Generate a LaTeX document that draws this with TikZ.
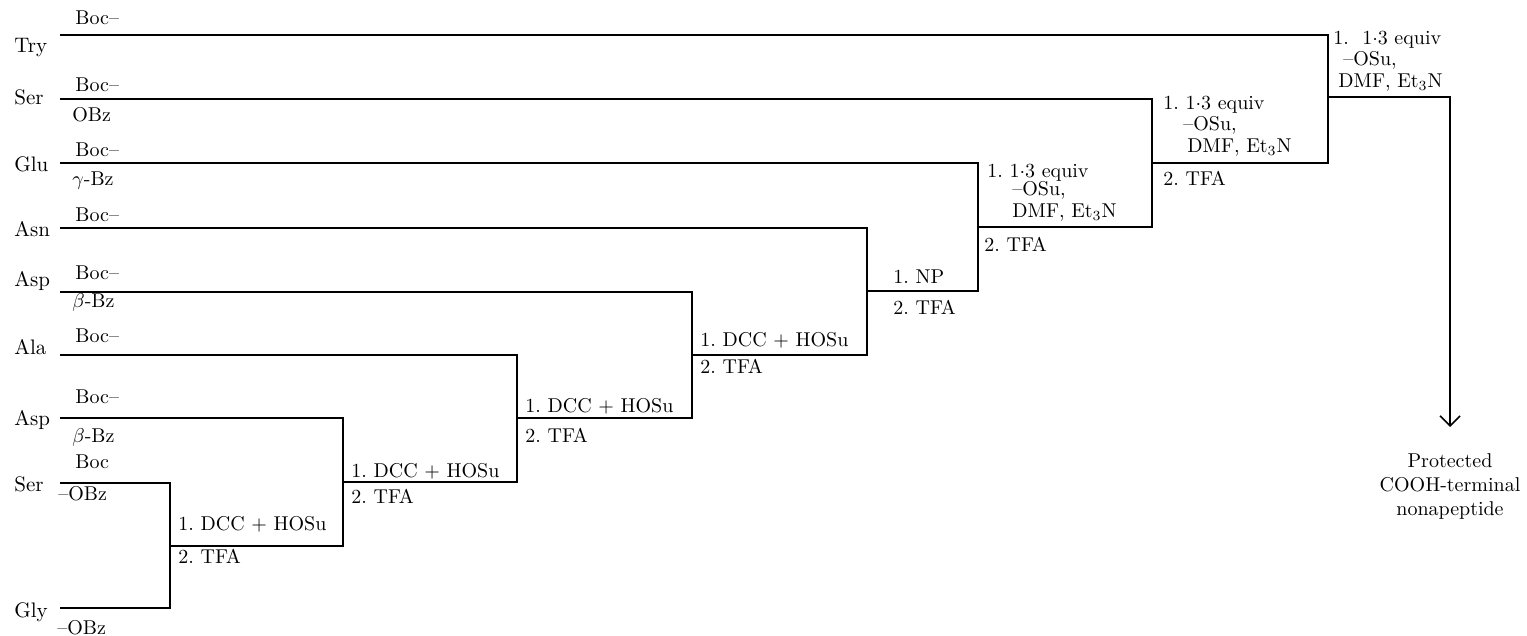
\documentclass[tikz,border=0pt]{standalone}
\usepackage{amsmath}
\usepackage{tikz}
\usetikzlibrary{positioning,arrows.meta}
\tikzset{
    res/.style={
        anchor=base west,
        inner sep=0pt,
        font=\fontsize{10.5}{12}\selectfont
    },
    grp/.style={
        anchor=base west,
        inner sep=0pt,
        font=\fontsize{10}{12}\selectfont
    },
    cond/.style={
        anchor=base west,
        inner sep=0pt,
        font=\fontsize{10}{12}\selectfont
    },
    bond/.style={line width=0.8pt},
    arr/.style={line width=0.8pt,-{Straight Barb[length=5pt,width=10pt]}}
}

\begin{document}
\begin{tikzpicture}[x=0.5pt,y=-0.5pt]
\useasboundingbox (0,0) rectangle (1527,636);

% Residues
\node[res] (nTry)  at (14,53)  {Try};
\node[res] (nSer)  at (14,105) {Ser};
\node[res] (nGlu)  at (14,172) {Glu};
\node[res] (nAsn)  at (14,237) {Asn};
\node[res] (nAsp)  at (14,287) {Asp};
\node[res] (nAla)  at (14,355) {Ala};
\node[res] (nAspb) at (14,425) {Asp};
\node[res] (nSerb) at (14,491) {Ser};
\node[res] (nGly)  at (14,617) {Gly};

\coordinate (rTry)  at (60,35);
\coordinate (rSer)  at (60,99);
\coordinate (rGlu)  at (60,163);
\coordinate (rAsn)  at (60,228);
\coordinate (rAsp)  at (60,292);
\coordinate (rAla)  at (60,355);
\coordinate (rAspb) at (60,418);
\coordinate (rSerb) at (60,483);
\coordinate (rGly)  at (60,608);

% Protecting groups
\node[grp] (gTry)  at (75,25)  {Boc--};
\node[grp] (gSer)  at (75,92)  {Boc--};
\node[grp] (oSer)  at (72,122) {OBz};
\node[grp] (gGlu)  at (75,157) {Boc--};
\node[grp] (oGlu)  at (72,186) {$\gamma$-Bz};
\node[grp] (gAsn)  at (75,222) {Boc--};
\node[grp] (gAsp)  at (75,280) {Boc--};
\node[grp] (oAsp)  at (72,308) {$\beta$-Bz};
\node[grp] (gAla)  at (75,343) {Boc--};
\node[grp] (gAspb) at (75,403) {Boc--};
\node[grp] (oAspb) at (72,443) {$\beta$-Bz};
\node[grp] (gSerb) at (75,468) {Boc};
\node[grp] (oSerb) at (58,500) {--OBz};
\node[grp] (oGly)  at (57,634) {--OBz};

% Coupling steps
\coordinate (p1) at (170,546);
\coordinate (p2) at (343,482);
\coordinate (p3) at (517,418);
\coordinate (p4) at (692,355);
\coordinate (p5) at (867,291);
\coordinate (p6) at (978,227);
\coordinate (p7) at (1152,163);
\coordinate (p8) at (1328,97);
\coordinate (tip) at (1450,427);

\draw[bond] (rSerb) -| (p1);
\draw[bond] (rGly) -| (p1);
\draw[bond] (rAspb) -| (p2);
\draw[bond] (p1) -| (p2);
\draw[bond] (rAla) -| (p3);
\draw[bond] (p2) -| (p3);
\draw[bond] (rAsp) -| (p4);
\draw[bond] (p3) -| (p4);
\draw[bond] (rAsn) -| (p5);
\draw[bond] (p4) -| (p5);
\draw[bond] (rGlu) -| (p6);
\draw[bond] (p5) -| (p6);
\draw[bond] (rSer) -| (p7);
\draw[bond] (p6) -| (p7);
\draw[bond] (rTry) -| (p8);
\draw[bond] (p7) -| (p8);
\draw[arr] (p8) -| (tip);

\node[cond] (c1a) at (178,530) {1.\ DCC + HOSu};
\node[cond] (c1b) at (178,563) {2.\ TFA};
\node[cond] (c2a) at (351,477) {1.\ DCC + HOSu};
\node[cond] (c2b) at (351,503) {2.\ TFA};
\node[cond] (c3a) at (525,413) {1.\ DCC + HOSu};
\node[cond] (c3b) at (525,443) {2.\ TFA};
\node[cond] (c4a) at (700,347) {1.\ DCC + HOSu};
\node[cond] (c4b) at (700,373) {2.\ TFA};
\node[cond] (c5a) at (893,284) {1.\ NP};
\node[cond] (c5b) at (893,315) {2.\ TFA};
\node[cond] (c6a) at (987,178)  {1.\ 1$\cdot$3 equiv};
\node[cond] (c6b) at (1012,196) {--OSu,};
\node[cond] (c6c) at (1012,218) {DMF, Et$_3$N};
\node[cond] (c6d) at (984,252)  {2.\ TFA};
\node[cond] (c7a) at (1163,110) {1.\ 1$\cdot$3 equiv};
\node[cond] (c7b) at (1183,131) {--OSu,};
\node[cond] (c7c) at (1187,153) {DMF, Et$_3$N};
\node[cond] (c7d) at (1163,186) {2.\ TFA};
\node[cond] (c8a) at (1333,45)  {1.\ \ 1$\cdot$3 equiv};
\node[cond] (c8b) at (1343,66)  {--OSu,};
\node[cond] (c8c) at (1338,88)  {DMF, Et$_3$N};

% Product
\node[align=center,anchor=north,inner sep=0pt,font=\fontsize{10}{12}\selectfont]
    (prod) at (1450,453) {Protected\\COOH-terminal\\nonapeptide};

\end{tikzpicture}
\end{document}
